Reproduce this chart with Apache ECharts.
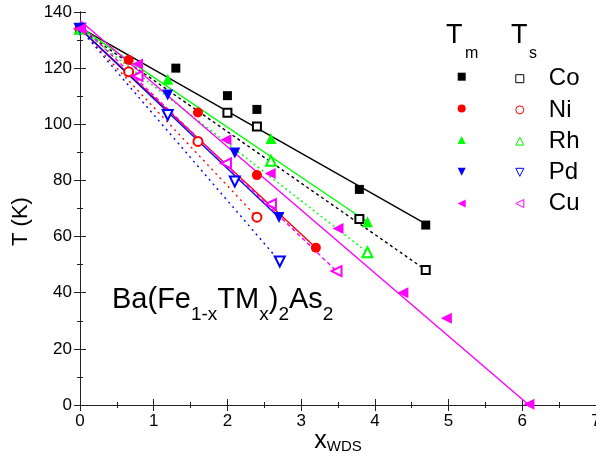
<!DOCTYPE html>
<html><head><meta charset="utf-8">
<script src="https://cdn.jsdelivr.net/npm/echarts@6/dist/echarts.min.js"></script>
<style>html,body{margin:0;padding:0;background:#fff}#c{width:596px;height:454px}</style>
</head><body><div id="c"></div>
<script>
const FONT = '"Liberation Sans", Arial, sans-serif';
const elements = ['Co', 'Ni', 'Rh', 'Pd', 'Cu'];
const colors = ['#000000', '#ff0000', '#00ff00', '#0000ff', '#ff00ff'];

// T_m data (filled symbols)
const coTmX = [0, 1.30, 2.00, 2.40, 3.79, 4.69];
const coTmY = [134, 120.0, 110.2, 105.3, 76.8, 64.1];
const niTmX = [0, 0.66, 1.60, 2.40, 3.20];
const niTmY = [134, 122.9, 104.2, 81.9, 56.0];
const rhTmX = [0, 1.19, 2.59, 3.90];
const rhTmY = [134, 116.0, 94.9, 65.3];
const pdTmX = [0, 1.19, 2.10, 2.70];
const pdTmY = [134, 110.4, 89.8, 66.8];
const cuTmX = [0, 0.78, 1.98, 2.58, 3.50, 4.38, 4.97, 6.09];
const cuTmY = [134, 121.5, 94.5, 82.5, 62.9, 40.0, 30.9, 0.3];

// T_s data (open symbols)
const coTsX = [0, 2.00, 2.40, 3.79, 4.69];
const coTsY = [134, 104.1, 99.2, 66.3, 48.1];
const niTsX = [0, 0.66, 1.60, 2.40];
const niTsY = [134, 118.7, 93.9, 66.9];
const rhTsX = [0, 2.59, 3.90];
const rhTsY = [134, 87.0, 54.4];
const pdTsX = [0, 1.19, 2.10, 2.71];
const pdTsY = [134, 103.3, 79.6, 51.1];
const cuTsX = [0, 0.78, 1.98, 2.59, 3.48];
const cuTsY = [134, 117.2, 86.1, 71.6, 47.7];

// linear fit lines (end points)
const coFitTmX = [0, 4.69], coFitTmY = [134.4, 64.5];
const coFitTsX = [0, 4.69], coFitTsY = [134.0, 48.1];
const niFitTmX = [0, 3.20], niFitTmY = [134.0, 56.0];
const niFitTsX = [0, 2.40], niFitTsY = [134.0, 66.9];
const rhFitTmX = [0, 3.90], rhFitTmY = [134.5, 65.2];
const rhFitTsX = [0, 3.90], rhFitTsY = [134.0, 54.4];
const pdFitTmX = [0, 2.70], pdFitTmY = [134.0, 66.8];
const pdFitTsX = [0, 2.71], pdFitTsY = [134.0, 51.1];
const cuFitTmX = [0, 6.09], cuFitTmY = [137.0, 0.0];
const cuFitTsX = [0, 3.48], cuFitTsY = [135.5, 47.7];

const xTicks = [0, 1, 2, 3, 4, 5, 6, 7];
const yTicks = [0, 20, 40, 60, 80, 100, 120, 140];

const zip = (xs, ys) => xs.map((x, i) => [x, ys[i]]);

const tmData = [zip(coTmX, coTmY), zip(niTmX, niTmY), zip(rhTmX, rhTmY), zip(pdTmX, pdTmY), zip(cuTmX, cuTmY)];
const tsData = [zip(coTsX, coTsY), zip(niTsX, niTsY), zip(rhTsX, rhTsY), zip(pdTsX, pdTsY), zip(cuTsX, cuTsY)];
const fitTm = [zip(coFitTmX, coFitTmY), zip(niFitTmX, niFitTmY), zip(rhFitTmX, rhFitTmY), zip(pdFitTmX, pdFitTmY), zip(cuFitTmX, cuFitTmY)];
const fitTs = [zip(coFitTsX, coFitTsY), zip(niFitTsX, niFitTsY), zip(rhFitTsX, rhFitTsY), zip(pdFitTsX, pdFitTsY), zip(cuFitTsX, cuFitTsY)];

const tmSymbols = ['rect', 'circle', 'triangle', 'triangle', 'triangle'];
const tsSymbols = ['emptyRect', 'emptyCircle', 'emptyTriangle', 'emptyTriangle', 'emptyTriangle'];
const rotations = [0, 0, 0, 180, 90];
const tmSizes = [9, 10, 11, 11, 11];
const tsSizes = [8, 9, 10, 10, 10];
const dashTypes = [[3, 3], [2, 4], [2, 3], [2, 4], [4, 3]];
// legend icon shapes (down / left pointing triangles drawn as paths)
const legendIcons = ['rect', 'circle', 'triangle', 'path://M0,0L10,0L5,10Z', 'path://M10,0L10,10L0,5Z'];

const series = [];
elements.forEach((el, i) => {
  series.push({
    name: el + ' fit Tm', type: 'line', data: fitTm[i], symbol: 'none', silent: true,
    lineStyle: { color: colors[i], width: 1.4, type: 'solid' }, z: 2
  });
  series.push({
    name: el + ' fit Ts', type: 'line', data: fitTs[i], symbol: 'none', silent: true,
    lineStyle: { color: colors[i], width: 1.4, type: dashTypes[i] }, z: 2
  });
});
elements.forEach((el, i) => {
  series.push({
    name: el + ' Tm', type: 'scatter', data: tmData[i], symbol: tmSymbols[i],
    symbolSize: tmSizes[i], symbolRotate: rotations[i],
    itemStyle: { color: colors[i], opacity: 1 }, z: 5
  });
  series.push({
    name: el, type: 'scatter', data: tsData[i], symbol: tsSymbols[i],
    symbolSize: tsSizes[i], symbolRotate: rotations[i],
    itemStyle: { color: colors[i], borderColor: colors[i], borderWidth: 1, opacity: 1 }, z: 4
  });
});

const axisLineStyle = { lineStyle: { color: '#222', width: 1 } };
const tickStyle = { show: true, inside: true, length: 6, lineStyle: { color: '#222', width: 1 } };
const minorStyle = { show: true, splitNumber: 2, length: 3, lineStyle: { color: '#222', width: 1 } };

const option = {
  backgroundColor: '#fff',
  animation: false,
  textStyle: { fontFamily: FONT },
  grid: { left: 80, right: 0, top: 12, bottom: 49, containLabel: false, outerBoundsMode: 'none' },
  xAxis: [
    {
      type: 'value', position: 'bottom', min: xTicks[0], max: xTicks[xTicks.length - 1], interval: 1,
      axisLine: axisLineStyle, axisTick: tickStyle, minorTick: minorStyle, splitLine: { show: false },
      axisLabel: { fontSize: 17, color: '#000', margin: 8, fontFamily: FONT, showMaxLabel: true },
      name: '{x|x}{s|WDS}', nameLocation: 'middle', nameGap: 19, nameMoveOverlap: false,
      nameTextStyle: { rich: {
        x: { fontSize: 25, fontFamily: FONT, color: '#000', lineHeight: 30, verticalAlign: 'bottom' },
        s: { fontSize: 15, fontFamily: FONT, color: '#000', lineHeight: 16, verticalAlign: 'bottom' }
      } }
    },
    {
      type: 'value', position: 'top', min: xTicks[0], max: xTicks[xTicks.length - 1], interval: 1,
      axisLine: axisLineStyle, axisTick: tickStyle, minorTick: minorStyle, splitLine: { show: false },
      axisLabel: { show: false }
    }
  ],
  yAxis: [
    {
      type: 'value', position: 'left', min: yTicks[0], max: yTicks[yTicks.length - 1], interval: 20,
      axisLine: axisLineStyle, axisTick: tickStyle, minorTick: minorStyle, splitLine: { show: false },
      axisLabel: { fontSize: 17, color: '#000', margin: 8, fontFamily: FONT },
      name: 'T (K)', nameLocation: 'middle', nameGap: 48, nameRotate: 90, nameMoveOverlap: false,
      nameTextStyle: { fontSize: 22, color: '#000', fontFamily: FONT, padding: [0, 26, 0, 0] }
    },
    {
      type: 'value', position: 'right', min: yTicks[0], max: yTicks[yTicks.length - 1], interval: 20,
      axisLine: axisLineStyle, axisTick: tickStyle, minorTick: minorStyle, splitLine: { show: false },
      axisLabel: { show: false }
    }
  ],
  legend: [
    {
      data: elements.map((e, i) => ({ name: e + ' Tm', icon: legendIcons[i],
        itemStyle: { color: colors[i], borderWidth: 0 } })),
      orient: 'vertical', left: 457.7, top: 72.7, padding: 0,
      itemWidth: 8, itemHeight: 8, itemGap: 23.7, selectedMode: false, formatter: () => '',
      textStyle: { fontSize: 24, fontFamily: FONT }
    },
    {
      data: elements.map((e, i) => ({ name: e, icon: legendIcons[i],
        itemStyle: { color: '#fff', borderColor: colors[i], borderWidth: 1 } })),
      orient: 'vertical', left: 515.3, top: 66.7, padding: 0,
      itemWidth: 8, itemHeight: 8, itemGap: 7.2, selectedMode: false,
      textStyle: { fontSize: 24, color: '#000', fontFamily: FONT, padding: [0, 0, 0, 20] }
    }
  ],
  graphic: [
    { type: 'text', left: 446, top: 22, style: { text: 'T', fontSize: 27, fontFamily: FONT, fill: '#000' } },
    { type: 'text', left: 465, top: 46, style: { text: 'm', fontSize: 16, fontFamily: FONT, fill: '#000' } },
    { type: 'text', left: 511, top: 22, style: { text: 'T', fontSize: 27, fontFamily: FONT, fill: '#000' } },
    { type: 'text', left: 529, top: 46, style: { text: 's', fontSize: 16, fontFamily: FONT, fill: '#000' } },
    {
      type: 'text', left: 112, top: 285,
      style: { text: '{m|Ba(Fe}{s|1-x}{m|TM}{s|x}{m|)}{s2|2}{m|As}{s2|2}', rich: {
        m: { fontSize: 29, fontFamily: FONT, fill: '#000', lineHeight: 50 },
        s: { fontSize: 19, fontFamily: FONT, fill: '#000', lineHeight: 20, verticalAlign: 'bottom' },
        s2: { fontSize: 19, fontFamily: FONT, fill: '#000', lineHeight: 12, verticalAlign: 'bottom' }
      } }
    }
  ],
  series: series
};

const chart = echarts.init(document.getElementById('c'), null, { renderer: 'canvas' });
chart.setOption(option);
</script>
</body></html>
